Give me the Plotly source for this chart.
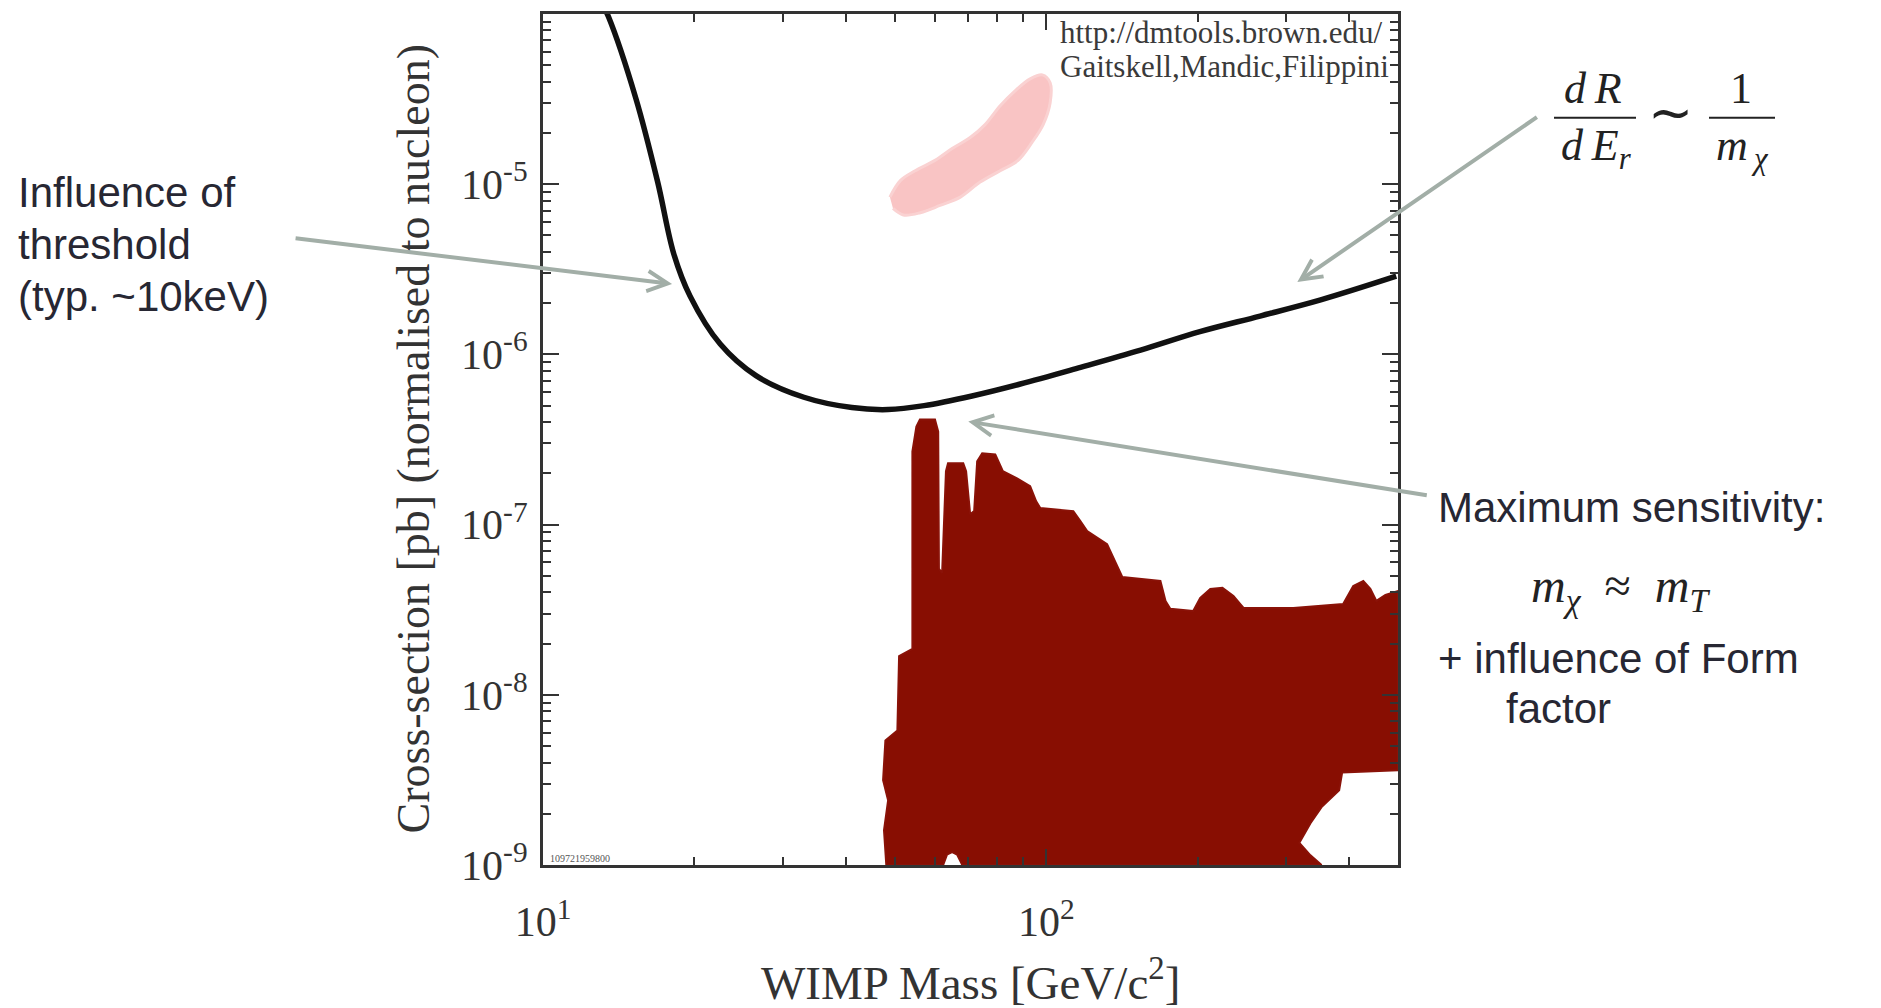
import math
import plotly.graph_objects as go

# ---- exclusion limit curve: WIMP mass [GeV/c^2] vs cross-section [pb]
limit_mass = [13.2, 13.5, 15.3, 16.9, 18.2, 19.6, 22.5, 26.5, 33.0, 41.1, 48.5, 57.2,
              71.2, 88.8, 117, 154, 202, 266, 351, 496]
limit_xsec = [1.1e-4, 9.6e-5, 3.18e-5, 1.03e-5, 3.88e-6, 2.20e-6, 1.15e-6, 7.5e-7,
              5.6e-7, 4.87e-7, 4.74e-7, 5.0e-7, 5.7e-7, 6.7e-7, 8.4e-7, 1.06e-6,
              1.36e-6, 1.68e-6, 2.09e-6, 2.88e-6]

# ---- claimed signal region (pink contour)
signal_mass = [48.9, 51.3, 54.9, 60.1, 65.0, 70.6, 75.6, 81.0, 86.7, 92.9, 98.2,
               101.8, 101.8, 98.6, 93.7, 87.9, 81.0, 73.9, 67.5, 61.5, 56.2, 52.0, 49.6]
signal_xsec = [8.4e-6, 1.05e-5, 1.20e-5, 1.38e-5, 1.62e-5, 1.88e-5, 2.24e-5, 2.89e-5,
               3.54e-5, 4.16e-5, 4.39e-5, 3.94e-5, 3.01e-5, 2.24e-5, 1.76e-5, 1.38e-5,
               1.20e-5, 1.03e-5, 8.4e-6, 7.5e-6, 6.8e-6, 6.6e-6, 7.2e-6]

# ---- theory-favoured parameter space (dark red region)
model_mass = [48.1, 47.6, 48.5, 47.4, 47.9, 50.6, 51.0, 54.2, 54.2, 55.2, 56.1, 60.1,
              61.0, 61.2, 62.1, 63.2, 63.8, 68.4, 69.3, 70.6, 71.9, 72.9, 74.6, 79.2,
              82.0, 87.5, 92.9, 95.5, 97.3, 113.2, 116.9, 120.6, 132.1, 137.0, 141.6,
              168.6, 172.6, 176.4, 195.9, 202.3, 211.8, 223.9, 235.5, 246.6, 309.7,
              389.0, 407.4, 426.6, 440.6, 452.9, 472.1, 500, 500, 387.3, 382.0, 352.4,
              335.0, 318.4, 335.0, 352.4, 68.1, 66.5, 65.0, 63.5, 62.4, 48.1]
model_xsec = [1e-9, 1.60e-9, 2.40e-9, 3.15e-9, 5.39e-9, 6.17e-9, 1.69e-8, 1.86e-8,
              2.69e-7, 3.77e-7, 4.14e-7, 4.14e-7, 3.52e-7, 5.5e-8, 5.2e-8, 2.06e-7,
              2.29e-7, 2.29e-7, 2.06e-7, 1.15e-7, 1.20e-7, 2.35e-7, 2.62e-7, 2.58e-7,
              2.06e-7, 1.87e-7, 1.68e-7, 1.37e-7, 1.25e-7, 1.20e-7, 1.05e-7, 9.15e-8,
              7.67e-8, 6.10e-8, 4.92e-8, 4.67e-8, 3.56e-8, 3.20e-8, 3.11e-8, 3.71e-8,
              4.19e-8, 4.25e-8, 3.81e-8, 3.24e-8, 3.24e-8, 3.42e-8, 4.36e-8, 4.67e-8,
              4.19e-8, 3.56e-8, 3.86e-8, 4.07e-8, 3.60e-9, 3.50e-9, 2.75e-9, 2.19e-9,
              1.76e-9, 1.35e-9, 1.14e-9, 1e-9, 1e-9, 1.15e-9, 1.19e-9, 1.15e-9, 1e-9, 1e-9]

# ---- axis ticks
x_major = [10, 100]
x_major_text = ["10<sup>1</sup>", "10<sup>2</sup>"]
x_minor = [20, 30, 40, 50, 60, 70, 80, 90, 200, 300, 400]
y_major = [1e-9, 1e-8, 1e-7, 1e-6, 1e-5]
y_major_text = ["10<sup>-9</sup>", "10<sup>-8</sup>", "10<sup>-7</sup>",
                "10<sup>-6</sup>", "10<sup>-5</sup>"]
y_minor = [k * 10.0 ** e for e in range(-9, -4) for k in range(2, 10)]

# ---- page geometry
W, H = 1881, 1008
PL, PR, PT, PB = 543, 1398, 11, 865


def fx(px):
    return (px - PL) / (PR - PL)


def fy(py):
    return (PB - py) / (PB - PT)


fig = go.Figure()

fig.add_trace(go.Scatter(
    x=model_mass, y=model_xsec, mode="lines", fill="toself",
    fillcolor="#880e02", line=dict(color="#8a1208", width=2),
    hoverinfo="skip", showlegend=False))

fig.add_trace(go.Scatter(
    x=signal_mass, y=signal_xsec, mode="lines", fill="toself",
    fillcolor="#f9c4c4", line=dict(color="#fad2d2", width=3, shape="spline"),
    hoverinfo="skip", showlegend=False))

fig.add_trace(go.Scatter(
    x=limit_mass, y=limit_xsec, mode="lines",
    line=dict(color="#111111", width=5.5, shape="spline", smoothing=1.0),
    hoverinfo="skip", showlegend=False))

axis_common = dict(
    type="log", ticks="inside", ticklen=16, tickwidth=2, tickcolor="#333",
    showline=True, linewidth=3, linecolor="#333", mirror="allticks",
    showgrid=False, zeroline=False,
    tickfont=dict(family="Liberation Serif", size=42, color="#333"),
)

fig.update_xaxes(
    range=[1, math.log10(500)], tickmode="array", tickvals=x_major, ticktext=x_major_text,
    minor=dict(tickmode="array", tickvals=x_minor, ticks="inside", ticklen=8,
               tickwidth=1.5, tickcolor="#333", showgrid=False),
    ticklabelstandoff=18, **axis_common)
fig.update_yaxes(
    range=[-9, -4], tickmode="array", tickvals=y_major, ticktext=y_major_text,
    minor=dict(tickmode="array", tickvals=y_minor, ticks="inside", ticklen=8,
               tickwidth=1.5, tickcolor="#333", showgrid=False),
    ticklabelstandoff=4, **axis_common)

serif = "Liberation Serif"
sans = "Liberation Sans"
slide_col = "#272733"
arrow_col = "#a2aea7"
THIN = "\u2009"
NB = "\u00a0"

ann = []
# axis titles
ann.append(dict(x=fx(413), y=0.5, xref="paper", yref="paper", textangle=-90,
                text="Cross-section [pb] (normalised to nucleon)", showarrow=False,
                font=dict(family=serif, size=46, color="#333"),
                xanchor="center", yanchor="middle"))
ann.append(dict(x=0.5, y=fy(980), xref="paper", yref="paper",
                text="WIMP Mass [GeV/c<sup>2</sup>]", showarrow=False,
                font=dict(family=serif, size=47, color="#333"),
                xanchor="center", yanchor="middle"))
# credits inside the frame
ann.append(dict(x=fx(1058), y=fy(30), xref="paper", yref="paper",
                text="http://dmtools.brown.edu/", showarrow=False,
                font=dict(family=serif, size=31, color="#3a3a3a"),
                xanchor="left", yanchor="middle"))
ann.append(dict(x=fx(1058), y=fy(64), xref="paper", yref="paper",
                text="Gaitskell,Mandic,Filippini", showarrow=False,
                font=dict(family=serif, size=31, color="#3a3a3a"),
                xanchor="left", yanchor="middle"))
ann.append(dict(x=fx(548), y=fy(858), xref="paper", yref="paper",
                text="109721959800", showarrow=False,
                font=dict(family=serif, size=10, color="#555"),
                xanchor="left", yanchor="middle"))

# explanatory notes
note_font = dict(family=sans, size=42, color=slide_col)
for txt, py in [("Influence of", 190), ("threshold", 242), ("(typ. ~10keV)", 294)]:
    ann.append(dict(x=fx(16), y=fy(py), xref="paper", yref="paper", text=txt,
                    showarrow=False, font=note_font, xanchor="left", yanchor="middle"))
ann.append(dict(x=fx(1436), y=fy(506), xref="paper", yref="paper",
                text="Maximum sensitivity:", showarrow=False, font=note_font,
                xanchor="left", yanchor="middle"))
ann.append(dict(x=fx(1436), y=fy(658), xref="paper", yref="paper",
                text="+ influence of Form", showarrow=False, font=note_font,
                xanchor="left", yanchor="middle"))
ann.append(dict(x=fx(1504), y=fy(708), xref="paper", yref="paper",
                text="factor", showarrow=False, font=note_font,
                xanchor="left", yanchor="middle"))
ann.append(dict(x=fx(1620), y=fy(588), xref="paper", yref="paper",
                text=("<i>m</i><sub><i>χ</i></sub>" + NB * 2 + "≈" + NB * 2
                      + "<i>m</i><sub><i>T</i></sub>"),
                showarrow=False, font=dict(family=serif, size=48, color="#222"),
                xanchor="center", yanchor="middle"))

# dR/dE_r ~ 1/m_chi
math_font = dict(family=serif, size=44, color="#222")
ann.append(dict(x=fx(1593), y=fy(86), xref="paper", yref="paper",
                text="<i>d" + THIN + "R</i>",
                showarrow=False, font=math_font, xanchor="center", yanchor="middle"))
ann.append(dict(x=fx(1596), y=fy(146), xref="paper", yref="paper",
                text="<i>d" + THIN + "E</i><sub><i>r</i></sub>",
                showarrow=False, font=math_font, xanchor="center", yanchor="middle"))
ann.append(dict(x=fx(1670), y=fy(110), xref="paper", yref="paper", text="∼",
                showarrow=False, font=dict(family=serif, size=54, color="#222"),
                xanchor="center", yanchor="middle"))
ann.append(dict(x=fx(1741), y=fy(86), xref="paper", yref="paper", text="1",
                showarrow=False, font=math_font, xanchor="center", yanchor="middle"))
ann.append(dict(x=fx(1742), y=fy(146), xref="paper", yref="paper",
                text="<i>m</i><sub><i>" + THIN + "χ</i></sub>",
                showarrow=False, font=math_font, xanchor="center", yanchor="middle"))

# pointer arrows (head position in data units, tail offset in pixels)
for hx, hy, ax, ay in [(18.05, 2.59e-6, -378, -46),
                       (315.5, 2.66e-6, 241, -166),
                       (70.0, 4.03e-7, 460, 74)]:
    ann.append(dict(x=math.log10(hx), y=math.log10(hy), xref="x", yref="y",
                    ax=ax, ay=ay, text="", showarrow=True, arrowhead=5,
                    arrowsize=1.0, arrowwidth=4, arrowcolor=arrow_col, standoff=0))

shapes = [
    dict(type="line", xref="paper", yref="paper", x0=fx(1554), x1=fx(1636),
         y0=fy(115), y1=fy(115), line=dict(color="#222", width=2)),
    dict(type="line", xref="paper", yref="paper", x0=fx(1709), x1=fx(1775),
         y0=fy(115), y1=fy(115), line=dict(color="#222", width=2)),
]

fig.update_layout(
    width=W, height=H, autosize=False,
    margin=dict(l=PL, r=W - PR, t=PT, b=H - PB),
    paper_bgcolor="white", plot_bgcolor="white",
    showlegend=False, annotations=ann, shapes=shapes,
)

fig.write_html("out.html", config={"displayModeBar": False})
